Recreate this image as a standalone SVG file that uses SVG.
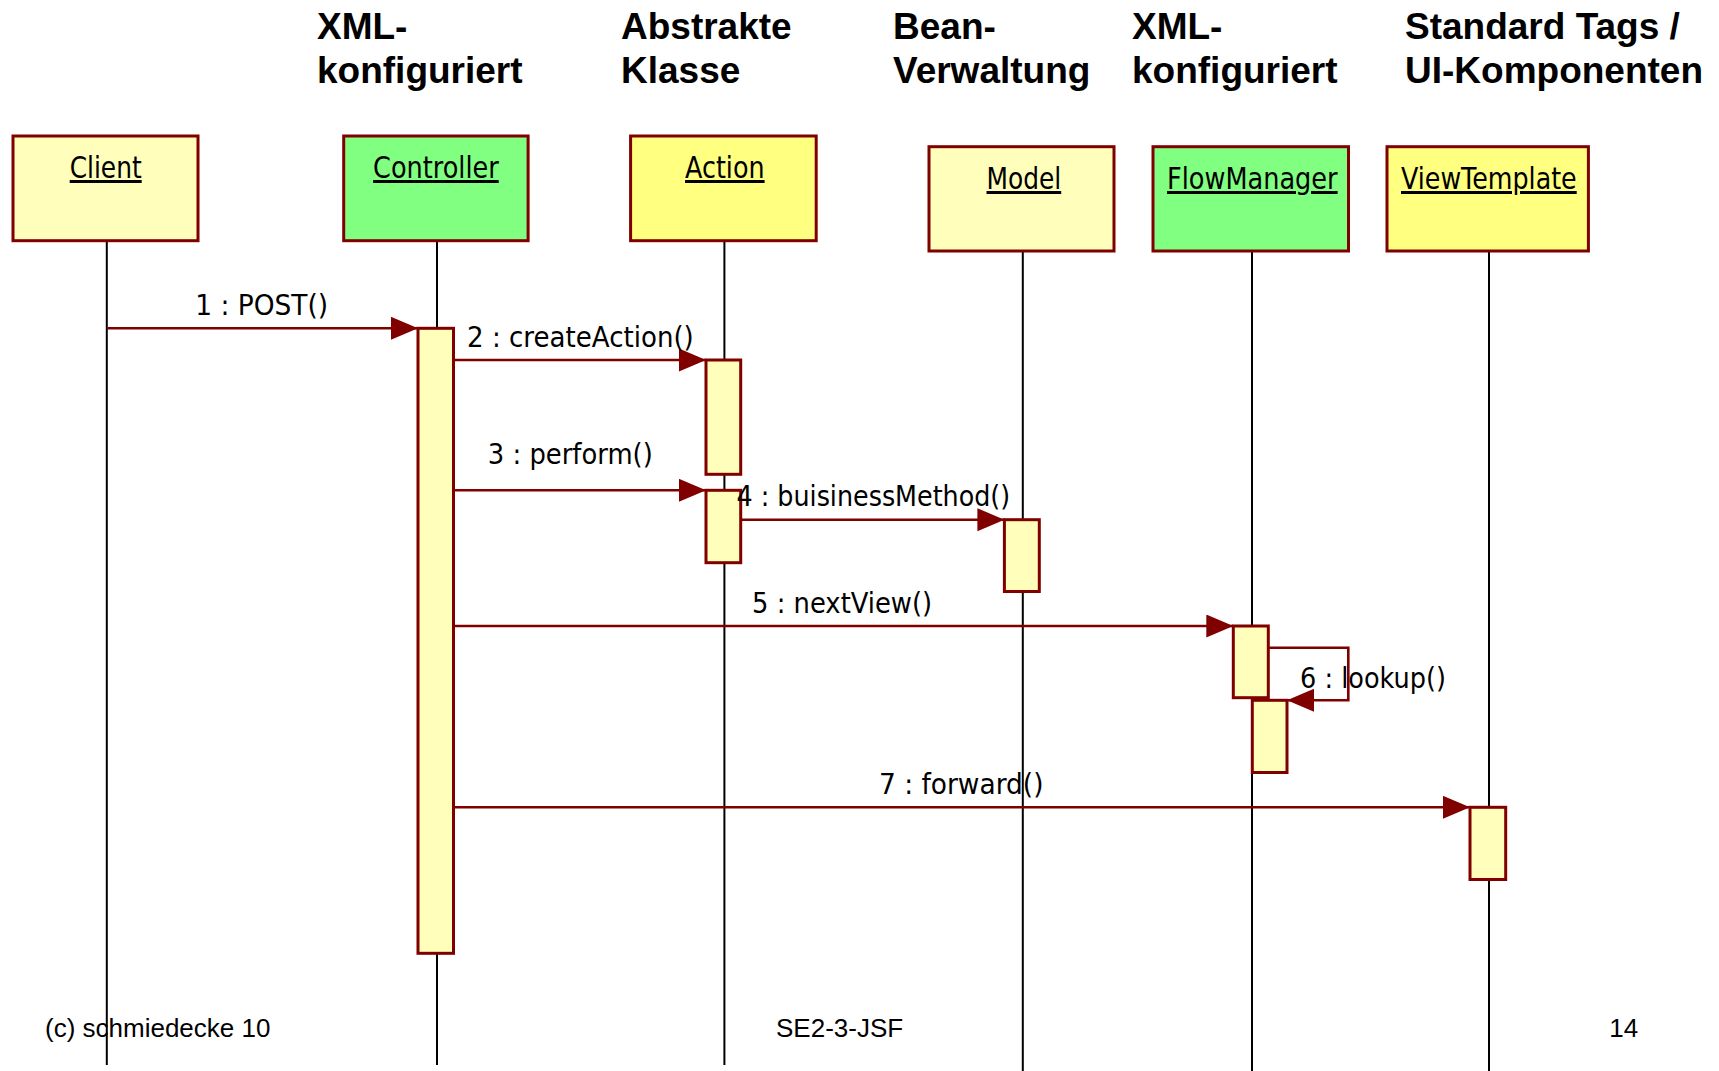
<svg xmlns="http://www.w3.org/2000/svg" width="1719" height="1071" viewBox="0 0 1719 1071">
<style>
.title{font-family:"Liberation Sans",Arial,sans-serif;font-weight:bold;font-size:37px;fill:#000}
.foot{font-family:"Liberation Sans",Arial,sans-serif;font-size:26px;fill:#000}
.box{stroke:#800000;stroke-width:3}
.lbl{font-family:"DejaVu Sans",Verdana,sans-serif;font-size:30px;fill:#000;text-decoration:underline}
.msg{font-family:"DejaVu Sans",Verdana,sans-serif;font-size:28px;fill:#000}
.life{stroke:#000;stroke-width:2;fill:none}
.act{fill:#FFFFBB;stroke:#800000;stroke-width:3}
.conn{stroke:#800000;stroke-width:2.6;fill:none}
</style>
<defs>
<marker id="ah" markerUnits="userSpaceOnUse" markerWidth="28" markerHeight="24" refX="27" refY="11.5" orient="auto">
<path d="M0,0 L27,11.5 L0,23 z" fill="#800000"/>
</marker>
</defs>
<rect width="1719" height="1071" fill="#fff"/>
<g id="titles">
<text class="title" x="317" y="39">XML-</text>
<text class="title" x="317" y="83">konfiguriert</text>
<text class="title" x="621" y="39">Abstrakte</text>
<text class="title" x="621" y="83">Klasse</text>
<text class="title" x="893" y="39">Bean-</text>
<text class="title" x="893" y="83">Verwaltung</text>
<text class="title" x="1132" y="39">XML-</text>
<text class="title" x="1132" y="83">konfiguriert</text>
<text class="title" x="1405" y="39">Standard Tags /</text>
<text class="title" x="1405" y="83">UI-Komponenten</text>
</g>
<g id="lifelines">
<line class="life" x1="106.8" y1="240" x2="106.8" y2="1065"/>
<line class="life" x1="437" y1="240" x2="437" y2="1065"/>
<line class="life" x1="724.4" y1="240" x2="724.4" y2="1065"/>
<line class="life" x1="1022.8" y1="251" x2="1022.8" y2="1071"/>
<line class="life" x1="1252" y1="251" x2="1252" y2="1071"/>
<line class="life" x1="1489" y1="251" x2="1489" y2="1071"/>
</g>
<g id="Client">
<rect class="box" x="13" y="136" width="185" height="104.7" fill="#FFFFBB"/>
<text class="lbl" x="69.7" y="178" textLength="72" lengthAdjust="spacingAndGlyphs">Client</text>
</g>
<g id="Controller">
<rect class="box" x="343.7" y="136" width="184.4" height="104.7" fill="#80FF80"/>
<text class="lbl" x="373.1" y="178" textLength="125.6" lengthAdjust="spacingAndGlyphs">Controller</text>
</g>
<g id="Action">
<rect class="box" x="630.6" y="136" width="185.6" height="104.7" fill="#FFFF80"/>
<text class="lbl" x="685" y="178" textLength="79.6" lengthAdjust="spacingAndGlyphs">Action</text>
</g>
<g id="Model">
<rect class="box" x="929" y="146.7" width="185" height="104.3" fill="#FFFFBB"/>
<text class="lbl" x="986.5" y="189" textLength="74.7" lengthAdjust="spacingAndGlyphs">Model</text>
</g>
<g id="FlowManager">
<rect class="box" x="1153" y="146.7" width="195.5" height="104.3" fill="#80FF80"/>
<text class="lbl" x="1167" y="189" textLength="170.6" lengthAdjust="spacingAndGlyphs">FlowManager</text>
</g>
<g id="ViewTemplate">
<rect class="box" x="1387" y="146.7" width="201.4" height="104.3" fill="#FFFF80"/>
<text class="lbl" x="1401" y="189" textLength="175.7" lengthAdjust="spacingAndGlyphs">ViewTemplate</text>
</g>
<g id="activations">
<rect class="act" x="418" y="328.3" width="35.5" height="625"/>
<rect class="act" x="706" y="360" width="34.7" height="114.3"/>
<rect class="act" x="706" y="490.3" width="34.7" height="72.4"/>
<rect class="act" x="1004.4" y="519.7" width="34.9" height="71.8"/>
<rect class="act" x="1233.3" y="626" width="35" height="71.7"/>
<rect class="act" x="1252.3" y="700.3" width="34.7" height="72.2"/>
<rect class="act" x="1470" y="807.3" width="35.7" height="72.2"/>
</g>
<g id="connectors">
<line class="conn" x1="106.8" y1="328.3" x2="418" y2="328.3" marker-end="url(#ah)"/>
<line class="conn" x1="453.5" y1="360" x2="706" y2="360" marker-end="url(#ah)"/>
<line class="conn" x1="453.5" y1="490.3" x2="706" y2="490.3" marker-end="url(#ah)"/>
<line class="conn" x1="740.7" y1="519.7" x2="1004.4" y2="519.7" marker-end="url(#ah)"/>
<line class="conn" x1="453.5" y1="626" x2="1233.3" y2="626" marker-end="url(#ah)"/>
<polyline class="conn" points="1268.3,647.7 1348.3,647.7 1348.3,700.3 1287,700.3" marker-end="url(#ah)"/>
<line class="conn" x1="453.5" y1="807.3" x2="1470" y2="807.3" marker-end="url(#ah)"/>
</g>
<g id="messages">
<text class="msg" x="195.2" y="315" textLength="133" lengthAdjust="spacingAndGlyphs">1 : POST()</text>
<text class="msg" x="467.1" y="346.7" textLength="226.7" lengthAdjust="spacingAndGlyphs">2 : createAction()</text>
<text class="msg" x="487.8" y="464" textLength="165" lengthAdjust="spacingAndGlyphs">3 : perform()</text>
<text class="msg" x="736.5" y="506" textLength="273.7" lengthAdjust="spacingAndGlyphs">4 : buisinessMethod()</text>
<text class="msg" x="752.1" y="612.7" textLength="180" lengthAdjust="spacingAndGlyphs">5 : nextView()</text>
<text class="msg" x="1300" y="687.7" textLength="146" lengthAdjust="spacingAndGlyphs">6 : lookup()</text>
<text class="msg" x="879" y="794" textLength="164.5" lengthAdjust="spacingAndGlyphs">7 : forward()</text>
</g>
<g id="footer">
<text class="foot" x="45" y="1036.7">(c) schmiedecke 10</text>
<text class="foot" x="776" y="1036.7">SE2-3-JSF</text>
<text class="foot" x="1609.3" y="1036.7">14</text>
</g>
</svg>
